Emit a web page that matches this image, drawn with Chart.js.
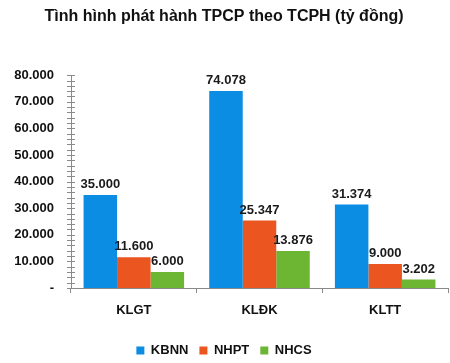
<!DOCTYPE html>
<html>
<head>
<meta charset="utf-8">
<script src="https://cdn.jsdelivr.net/npm/chart.js@4"></script>
<style>
  html, body { margin: 0; padding: 0; background: #fff; }
  #wrap { width: 450px; height: 363px; }
</style>
</head>
<body>
<div id="wrap"><canvas id="myChart"></canvas></div>
<script>
// Data
const categories = ["KLGT", "KLĐK", "KLTT"];
const kbnn = [35000, 74078, 31374];
const nhpt = [11600, 25347, 9000];
const nhcs = [6000, 13876, 3202];
const seriesNames = ["KBNN", "NHPT", "NHCS"];
const yTicks = [0, 10000, 20000, 30000, 40000, 50000, 60000, 70000, 80000];

const FONT = "'Liberation Sans', Arial, sans-serif";

// 35000 -> "35.000", 0 -> "-"
function fmt(v) {
  if (v === 0) return "-";
  return v.toString().replace(/\B(?=(\d{3})+(?!\d))/g, ".");
}

// value labels above bars + minor ticks crossing the y axis
const extras = {
  id: 'extras',
  afterDatasetsDraw(chart) {
    const ctx = chart.ctx;
    ctx.save();
    ctx.font = "bold 13px " + FONT;
    ctx.fillStyle = "#1a1a1a";
    ctx.textAlign = "center";
    ctx.textBaseline = "bottom";
    chart.data.datasets.forEach((ds, i) => {
      chart.getDatasetMeta(i).data.forEach((bar, j) => {
        ctx.fillText(fmt(ds.data[j]), bar.x, bar.y - 4);
      });
    });

    const y = chart.scales.y;
    ctx.strokeStyle = "#8a8a8a";
    ctx.lineWidth = 1;
    for (let v = 0; v <= 80000; v += 2000) {
      const py = Math.round(y.getPixelForValue(v)) + 0.5;
      ctx.beginPath();
      ctx.moveTo(y.right - 4, py);
      ctx.lineTo(y.right + 4, py);
      ctx.stroke();
    }
    ctx.restore();
  }
};

const chartData = {
  labels: categories,
  datasets: [
    { label: seriesNames[0], data: kbnn, backgroundColor: '#0b8de3' },
    { label: seriesNames[1], data: nhpt, backgroundColor: '#ea5520' },
    { label: seriesNames[2], data: nhcs, backgroundColor: '#6db633' }
  ]
};

const chartConfig = {
  type: 'bar',
  data: chartData,
  plugins: [extras],
  options: {
    responsive: true,
    maintainAspectRatio: false,
    animation: false,
    layout: { padding: { top: 0, right: 2, bottom: -4, left: 0 } },
    datasets: { bar: { categoryPercentage: 0.8, barPercentage: 1.0 } },
    plugins: {
      title: {
        display: true,
        text: 'Tình hình phát hành TPCP theo TCPH (tỷ đồng)',
        color: '#111',
        font: { size: 16, weight: 'bold', family: FONT },
        padding: { top: 7, bottom: 49 }
      },
      legend: {
        position: 'bottom',
        labels: {
          boxWidth: 8,
          boxHeight: 8,
          padding: 11,
          color: '#111',
          font: { size: 13, weight: 'bold', family: FONT }
        }
      },
      tooltip: { enabled: false }
    },
    scales: {
      x: {
        grid: { display: true, drawOnChartArea: false, tickLength: 5, color: '#8a8a8a', offset: true },
        border: { display: true, color: '#8a8a8a' },
        ticks: { color: '#111', padding: 10, font: { size: 13, weight: 'bold', family: FONT } },
        afterFit(scale) { scale.height = 45; }
      },
      y: {
        min: 0,
        max: 80000,
        afterBuildTicks(scale) { scale.ticks = yTicks.map(v => ({ value: v })); },
        grid: { display: false },
        border: { display: true, color: '#8a8a8a' },
        ticks: {
          color: '#111',
          padding: 9,
          font: { size: 13, weight: 'bold', family: FONT },
          callback: (v) => fmt(v)
        },
        afterFit(scale) { scale.width = 71; }
      }
    }
  }
};

const myChart = new Chart(document.getElementById('myChart'), chartConfig);
</script>
</body>
</html>
